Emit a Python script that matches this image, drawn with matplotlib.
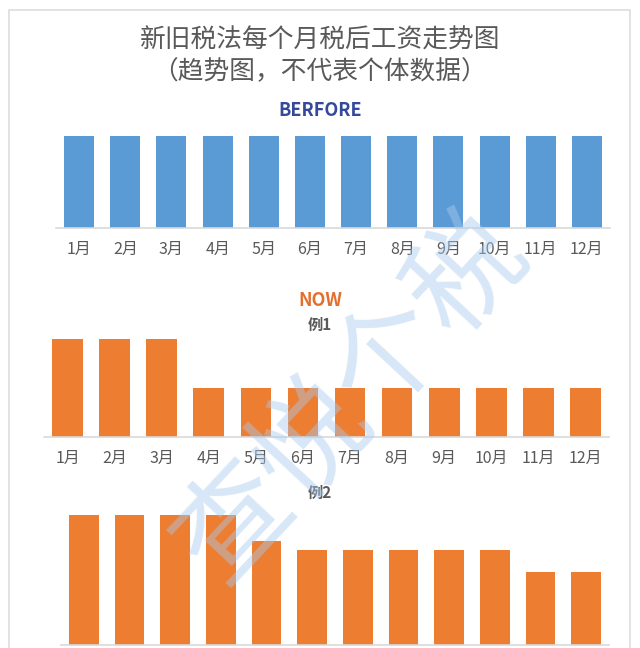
import matplotlib.pyplot as plt
from matplotlib.patches import Rectangle

plt.rcParams['font.family'] = ['Noto Sans CJK SC', 'DejaVu Sans']

months = ['1月', '2月', '3月', '4月', '5月', '6月', '7月', '8月', '9月', '10月', '11月', '12月']
before = [10, 10, 10, 10, 10, 10, 10, 10, 10, 10, 10, 10]
now_ex1 = [10, 10, 10, 5, 5, 5, 5, 5, 5, 5, 5, 5]
now_ex2 = [10, 10, 10, 10, 8, 7.3, 7.3, 7.3, 7.3, 7.3, 5.6, 5.6]

blue = '#5B9BD5'
orange = '#ED7D31'
grey_text = '#595959'
axis_grey = '#D9D9D9'

fig = plt.figure(figsize=(6.4, 6.48), dpi=100)
W, H = 640, 648

def px_axes(left, right, top, bottom):
    # pixel box -> figure axes
    return fig.add_axes([left / W, 1 - bottom / H, (right - left) / W, (bottom - top) / H])

def bar_panel(ax, vals, color, show_labels=True):
    x = range(len(vals))
    ax.bar(x, vals, width=0.65, color=color, zorder=2)
    ax.set_xlim(-0.5, len(vals) - 0.5)
    ax.set_ylim(0, max(vals))
    for s in ['top', 'left', 'right']:
        ax.spines[s].set_visible(False)
    ax.spines['bottom'].set_color(axis_grey)
    ax.spines['bottom'].set_linewidth(1.2)
    ax.set_yticks([])
    ax.set_xticks(list(x))
    if show_labels:
        ax.set_xticklabels(months, fontsize=11.5, color=grey_text)
    else:
        ax.set_xticklabels([])
    ax.tick_params(axis='x', length=0, pad=9)
    ax.patch.set_alpha(0)

ax1 = px_axes(56, 610, 136, 228)
bar_panel(ax1, before, blue)

ax2 = px_axes(44, 609, 339, 437)
bar_panel(ax2, now_ex1, orange)

ax3 = px_axes(61, 609, 515, 645)
bar_panel(ax3, now_ex2, orange, show_labels=False)

# frame
fig.patches.append(Rectangle((9 / W, -0.01), (630 - 9) / W, 1 - 10 / H + 0.01,
                             transform=fig.transFigure, fill=False,
                             edgecolor='#DDDDDD', linewidth=1.2))

fig.text(0.5, 1 - 41 / H, '新旧税法每个月税后工资走势图', ha='center', va='center',
         fontsize=18.5, color=grey_text)
fig.text(0.5, 1 - 72 / H, '（趋势图，不代表个体数据）', ha='center', va='center',
         fontsize=18.5, color=grey_text)
fig.text(0.5, 1 - 110 / H, 'BERFORE', ha='center', va='center',
         fontsize=13, color='#34499A', fontweight='bold')
fig.text(0.5, 1 - 300 / H, 'NOW', ha='center', va='center',
         fontsize=13, color='#E2702F', fontweight='bold')
fig.text(0.5, 1 - 325 / H, '例1', ha='center', va='center',
         fontsize=11, color=grey_text, fontweight='bold')
fig.text(0.5, 1 - 493 / H, '例2', ha='center', va='center',
         fontsize=11, color=grey_text, fontweight='bold')

# watermark
fig.text(352 / W, 1 - 398 / H, '查悦个税', ha='center', va='center', rotation=47,
         fontsize=82, color='#A8CBEE', alpha=0.45, fontweight='light', zorder=10)

fig.savefig('out.png', dpi=100)
